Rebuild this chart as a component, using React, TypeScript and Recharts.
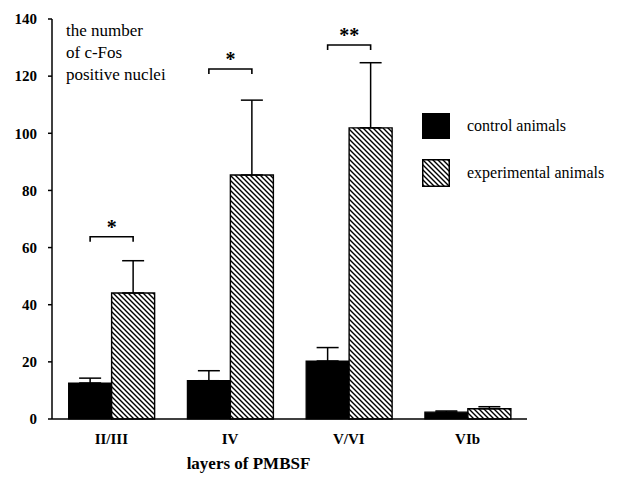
import React from 'react';
import { BarChart, Bar, XAxis, YAxis, ErrorBar, LabelList, Legend, Label } from 'recharts';

const layers = ['II/III', 'IV', 'V/VI', 'VIb'];
const control = [12.6, 13.4, 20.3, 2.4];
const controlErr = [1.7, 3.5, 4.7, 0.4];
const experimental = [44.1, 85.4, 101.9, 3.6];
const experimentalErr = [11.3, 26.2, 22.8, 0.7];
// height of the significance bracket and its mark
const sigLevel = [63.8, 122.5, 130.9, null];
const sigMark = ['*', '*', '**', ''];
const yTicks = [0, 20, 40, 60, 80, 100, 120, 140];

const data = layers.map((name, i) => ({
	name: name,
	control: control[i],
	controlErr: [0, controlErr[i]],
	experimental: experimental[i],
	experimentalErr: [0, experimentalErr[i]],
	sig: sigLevel[i],
}));

const serif = '"Liberation Serif", "Times New Roman", serif';

function Bracket(props: any) {
	const { x, y, width, height, index } = props;
	const level = sigLevel[index];
	if (level == null) return null;
	const base = y + height;
	const perUnit = height / experimental[index];
	const ly = base - level * perUnit;
	const x1 = x - width / 2;
	const x2 = x + width / 2;
	return (
		<g>
			<path d={`M${x1},${ly + 5} L${x1},${ly} L${x2},${ly} L${x2},${ly + 5}`} fill="none" stroke="#000" strokeWidth={1.6} />
			<text x={(x1 + x2) / 2} y={ly - 3} textAnchor="middle" fontFamily={serif} fontSize={20} fontWeight="bold" fill="#000">{sigMark[index]}</text>
		</g>
	);
}

function HatchDefs({ id }: { id: string }) {
	return (
		<defs>
			<pattern id={id} width={5} height={5} patternUnits="userSpaceOnUse">
				<rect width={5} height={5} fill="#fff" />
				<path d="M0,0 L5,5 M-1,4 L1,6 M4,-1 L6,1" stroke="#000" strokeWidth={1.4} />
			</pattern>
		</defs>
	);
}

function LegendBox() {
	return (
		<div style={{ fontFamily: serif, fontSize: 16, color: '#000' }}>
			<div style={{ display: 'flex', alignItems: 'center', height: 26, marginBottom: 20 }}>
				<svg width={28} height={26}><rect x={0} y={0} width={28} height={26} fill="#000" /></svg>
				<span style={{ marginLeft: 17 }}>control animals</span>
			</div>
			<div style={{ display: 'flex', alignItems: 'center', height: 28 }}>
				<svg width={28} height={28}>
					<HatchDefs id="hatchLegend" />
					<rect x={0.75} y={0.75} width={26.5} height={26.5} fill="url(#hatchLegend)" stroke="#000" strokeWidth={1.5} />
				</svg>
				<span style={{ marginLeft: 17 }}>experimental animals</span>
			</div>
		</div>
	);
}

export default function App() {
	return (
		<div style={{ position: 'absolute', left: 0, top: 0, width: 620, height: 478, background: '#fff' }}>
			<BarChart width={620} height={478} data={data} margin={{ top: 19, right: 93, bottom: 29, left: 0 }}
				barCategoryGap="14%" barGap={0}>
				<HatchDefs id="hatch" />
				<XAxis dataKey="name" height={30} axisLine={{ stroke: '#000', strokeWidth: 1.5 }} tickLine={false}
					tickMargin={8} tick={{ fill: '#000', fontFamily: serif, fontSize: 15, fontWeight: 'bold' }}>
					<Label value="layers of PMBSF" position="insideBottom" offset={-20} dx={-41}
						style={{ fill: '#000', fontFamily: serif, fontSize: 17, fontWeight: 'bold' }} />
				</XAxis>
				<YAxis width={52} domain={[0, 140]} ticks={yTicks} interval={0} axisLine={{ stroke: '#000', strokeWidth: 1.5 }}
					tickLine={{ stroke: '#000', strokeWidth: 1.5 }} tickSize={4} tickMargin={11}
					tick={{ fill: '#000', fontFamily: serif, fontSize: 15, fontWeight: 'bold' }} />
				<Legend layout="vertical" align="center" verticalAlign="middle" content={() => <LegendBox />}
					wrapperStyle={{ left: 422, top: 113, width: 200 }} />
				<Bar dataKey="control" fill="#000" stroke="#000" strokeWidth={1.2} isAnimationActive={false}>
					<ErrorBar dataKey="controlErr" direction="y" width={11} stroke="#000" strokeWidth={1.5} />
				</Bar>
				<Bar dataKey="experimental" fill="url(#hatch)" stroke="#000" strokeWidth={1.4} isAnimationActive={false}>
					<ErrorBar dataKey="experimentalErr" direction="y" width={11} stroke="#000" strokeWidth={1.5} />
					<LabelList dataKey="sig" content={Bracket} />
				</Bar>
			</BarChart>
			<div style={{ position: 'absolute', left: 66, top: 20, fontFamily: serif, fontSize: 17, lineHeight: '22px', color: '#000' }}>
				the number<br />of c-Fos<br />positive nuclei
			</div>
		</div>
	);
}
